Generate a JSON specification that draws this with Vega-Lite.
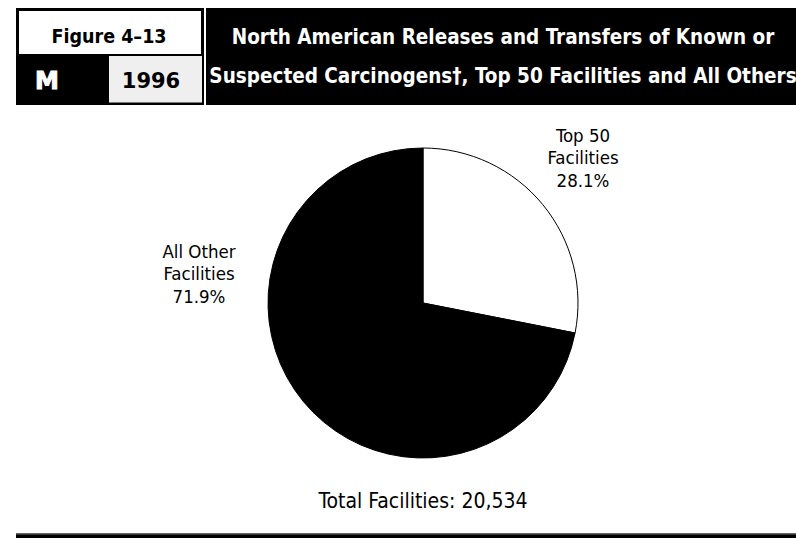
{
  "$schema": "https://vega.github.io/schema/vega-lite/v6.json",
  "width": 796,
  "height": 538,
  "autosize": {"type": "fit", "contains": "padding"},
  "padding": 0,
  "background": "white",
  "config": {"view": {"stroke": null}},
  "data": {"values": [
    {"category": "Top 50", "share": 28.1},
    {"category": "All Other", "share": 71.9}
  ]},
  "layer": [
    {"data": {"values": [{}]}, "mark": {"type": "rect", "x": 15, "x2": 203, "y": 7, "y2": 104, "fill": "black"}, "encoding": {}},
    {"data": {"values": [{}]}, "mark": {"type": "rect", "x": 18, "x2": 200, "y": 10, "y2": 53, "fill": "white"}, "encoding": {}},
    {"data": {"values": [{}]}, "mark": {"type": "rect", "x": 108, "x2": 201, "y": 55, "y2": 101.5, "fill": "#efefef"}, "encoding": {}},
    {"data": {"values": [{}]}, "mark": {"type": "rect", "x": 205, "x2": 796, "y": 7, "y2": 104, "fill": "black"}, "encoding": {}},
    {"data": {"values": [{}]}, "mark": {"type": "rule", "x": 205, "x2": 796, "y": 96.3, "stroke": "white", "strokeWidth": 1.3}, "encoding": {}},
    {"data": {"values": [{}]}, "mark": {"type": "rule", "x": 15.7, "y": 104, "y2": 533, "stroke": "#555555", "strokeWidth": 2}, "encoding": {}},
    {"data": {"values": [{}]}, "mark": {"type": "rect", "x": 15, "x2": 796, "y": 532, "y2": 533.3, "fill": "#666666"}, "encoding": {}},
    {"data": {"values": [{}]}, "mark": {"type": "rect", "x": 15, "x2": 796, "y": 533.3, "y2": 538, "fill": "black"}, "encoding": {}},
    {
      "mark": {"type": "arc", "x": 422, "y": 302, "outerRadius": 155, "stroke": "black", "strokeWidth": 1},
      "encoding": {
        "theta": {"field": "share", "type": "quantitative", "stack": true},
        "order": {"field": "category", "sort": "descending"},
        "color": {"field": "category", "type": "nominal", "scale": {"domain": ["Top 50", "All Other"], "range": ["white", "black"]}, "legend": null}
      }
    },
    {
      "transform": [{"calculate": "datum.category + '\\nFacilities\\n' + format(datum.share, '.1f') + '%'", "as": "label"}],
      "layer": [
        {
          "transform": [{"filter": "datum.category === 'Top 50'"}],
          "mark": {"type": "text", "x": 422, "y": 302, "radius": 200, "dx": 5.5, "dy": -34.3, "align": "center", "baseline": "alphabetic", "lineBreak": "\n", "lineHeight": 22.5, "fontSize": 18.5, "font": "DejaVu Sans Condensed, sans-serif", "color": "black"},
          "encoding": {
            "theta": {"field": "share", "type": "quantitative", "stack": true},
            "text": {"field": "label", "type": "nominal"}
          }
        },
        {
          "transform": [{"filter": "datum.category === 'All Other'"}],
          "mark": {"type": "text", "x": 422, "y": 302, "radius": 0, "dx": -224, "dy": -45.3, "align": "center", "baseline": "alphabetic", "lineBreak": "\n", "lineHeight": 22.5, "fontSize": 18.5, "font": "DejaVu Sans Condensed, sans-serif", "color": "black"},
          "encoding": {
            "text": {"field": "label", "type": "nominal"}
          }
        }
      ]
    },
    {
      "data": {"values": [{"total_facilities": 20534}]},
      "transform": [{"calculate": "'Total Facilities: ' + format(datum.total_facilities, ',')", "as": "label"}],
      "mark": {"type": "text", "x": 422, "y": 507, "align": "center", "baseline": "alphabetic", "fontSize": 21, "font": "DejaVu Sans Condensed, sans-serif", "color": "black"},
      "encoding": {"text": {"field": "label", "type": "nominal"}}
    },
    {"data": {"values": [{}]}, "mark": {"type": "text", "text": "Figure 4–13", "x": 108, "y": 41.5, "align": "center", "baseline": "alphabetic", "fontSize": 19.5, "fontWeight": "bold", "font": "DejaVu Sans Condensed, sans-serif", "color": "black"}, "encoding": {}},
    {"data": {"values": [{}]}, "mark": {"type": "text", "text": "M", "x": 46, "y": 88.3, "align": "center", "baseline": "alphabetic", "fontSize": 24, "fontWeight": "bold", "font": "DejaVu Sans", "color": "white", "stroke": "white", "strokeWidth": 1}, "encoding": {}},
    {"data": {"values": [{}]}, "mark": {"type": "text", "text": "1996", "x": 150, "y": 87.3, "align": "center", "baseline": "alphabetic", "fontSize": 21, "fontWeight": "bold", "font": "DejaVu Sans", "color": "black"}, "encoding": {}},
    {"data": {"values": [{}]}, "mark": {"type": "text", "text": ["North American Releases and Transfers of Known or", "Suspected Carcinogens†, Top 50 Facilities and All Others"], "x": 502, "y": 43.3, "align": "center", "baseline": "alphabetic", "lineHeight": 38.4, "fontSize": 20.5, "fontWeight": "bold", "font": "DejaVu Sans Condensed, sans-serif", "color": "white"}, "encoding": {}}
  ]
}
